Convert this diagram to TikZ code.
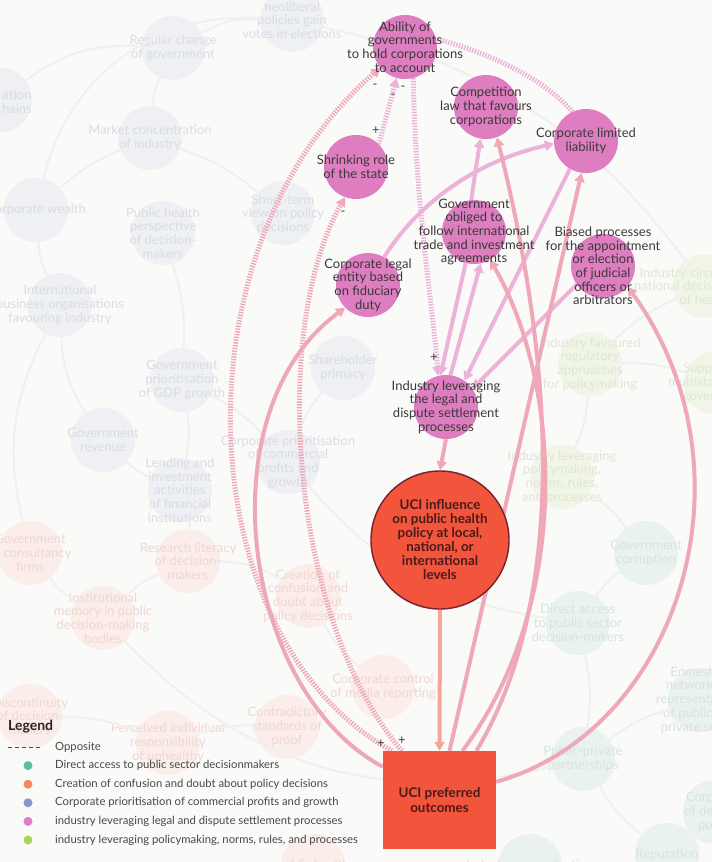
\documentclass[tikz,border=0pt]{standalone}
\usepackage{fontspec}
\setmainfont{Lato}
\usetikzlibrary{arrows.meta,positioning}
\pgfdeclarelayer{bg}
\pgfdeclarelayer{edges}
\pgfsetlayers{bg,edges,main}

\definecolor{paper}{HTML}{FAFAF9}
\definecolor{pinknode}{HTML}{DE7DC0}
\definecolor{pinkline}{HTML}{ECB2D8}
\definecolor{mixline}{HTML}{EFA8B8}
\definecolor{salmonline}{HTML}{F2A69C}
\definecolor{ucired}{HTML}{F2553B}
\definecolor{ucidark}{HTML}{7B1D31}
\definecolor{ucitext}{HTML}{4A1A1A}
\definecolor{nodetxt}{HTML}{3A3A3A}
\definecolor{fgray}{HTML}{EEF0F4}
\definecolor{fgraytxt}{HTML}{D9DCE2}
\definecolor{fsalmon}{HTML}{FBEDE9}
\definecolor{fsalmontxt}{HTML}{F0D7D1}
\definecolor{fgreen}{HTML}{F1F5E8}
\definecolor{fgreentxt}{HTML}{DFE7D0}
\definecolor{fteal}{HTML}{EAF2EF}
\definecolor{fteatxt}{HTML}{D6E4DE}
\definecolor{fline}{HTML}{F0F0F0}
\definecolor{legteal}{HTML}{5FBEA0}
\definecolor{legorange}{HTML}{F48A5E}
\definecolor{legblue}{HTML}{8898CC}
\definecolor{legpink}{HTML}{E07CC4}
\definecolor{leggreen}{HTML}{A5D65A}

\tikzset{
  factor/.style={circle,fill=pinknode,minimum size=64pt,inner sep=0pt},
  ftext/.style={font=\fontsize{13}{13.7}\selectfont,text=nodetxt,align=center,inner sep=0pt},
  uciinfl/.style={circle,fill=ucired,draw=ucidark,line width=1.4pt,minimum size=138pt,inner sep=0pt,
    font=\bfseries\fontsize{13.4}{14}\selectfont,text=ucitext,align=center},
  ucibox/.style={rectangle,fill=ucired,minimum width=113pt,minimum height=98pt,inner sep=0pt,
    font=\bfseries\fontsize{13.4}{15}\selectfont,text=ucitext,align=center},
  fadenode/.style={circle,fill=#1,minimum size=64pt,inner sep=0pt},
  fadetext/.style={font=\fontsize{13}{13.7}\selectfont,text=#1,align=center,inner sep=0pt},
  fadelink/.style={draw=fline,line width=2pt},
  plink/.style={draw=pinkline,line width=4pt,->},
  popp/.style={draw=pinkline,line width=5pt,dash pattern=on 1.4pt off 1.4pt,->},
  olink/.style={draw=mixline,line width=4pt,->},
  oopp/.style={draw=mixline,line width=5pt,dash pattern=on 1.4pt off 1.4pt,->},
  sign/.style={font=\fontsize{13}{13}\selectfont,text=black!75,inner sep=0pt},
  legtitle/.style={font=\bfseries\fontsize{14}{16}\selectfont,text=black!85,anchor=west,inner sep=0pt},
  legtext/.style={font=\fontsize{11.3}{13}\selectfont,text=black!72,anchor=west,inner sep=0pt},
  legdot/.style={circle,minimum size=9pt,inner sep=0pt},
}

\begin{document}
\begin{tikzpicture}[x=1pt,y=-1pt,>={Triangle[length=9pt,width=10pt]}]
\useasboundingbox (0,0) rectangle (712,862);

% faded background network
\begin{pgfonlayer}{bg}
\fill[paper] (0,0) rectangle (712,862);
\foreach \x/\y/\lab [count=\i] in {292/20/{neoliberal\\policies gain\\votes in elections},
    173/48/{Regular change\\of government}, 150/138/{Market concentration\\of industry},
    36/210/{Corporate wealth}, 163/233/{Public health\\perspective\\of decision-\\makers},
    283/213/{Short-term\\view on policy\\decisions}, 60/305/{International\\business organisations\\favouring industry},
    182/380/{Government\\prioritisation\\of GDP growth}, 103/440/{Government\\revenue},
    180/490/{Lending and\\investment\\activities\\of financial\\institutions},
    343/368/{Shareholder\\primacy}, 288/462/{Corporate prioritisation\\of commercial\\profits and\\growth}}
  \node[fadenode=fgray,label={[fadetext=fgraytxt]center:\lab}] (g\i) at (\x,\y) {};
\node[fadenode=fgray] (g13) at (0,100) {};
\node[fadetext=fgraytxt,anchor=east] (g13t) at (32,102) {ation\\hains};
\foreach \x/\y/\lab [count=\i] in {30/553/{Government\\of consultancy\\firms},
    188/561/{Research literacy\\of decision-\\makers}, 103/618/{Institutional\\memory in public\\decision-making\\bodies},
    308/596/{Creation of\\confusion and\\doubt about\\policy decisions}, 383/687/{Corporate control\\of media reporting},
    30/716/{Discontinuity\\of decision-\\makers}, 168/743/{Perceived individual\\responsibility\\of unhealthy},
    287/727/{Contradictory\\standards of\\proof}, 313/866/{public health}}
  \node[fadenode=fsalmon,label={[fadetext=fsalmontxt]center:\lab}] (s\i) at (\x,\y) {};
\foreach \x/\y/\lab [count=\i] in {590/364/{Industry favoured\\regulatory\\approaches\\for policymaking},
    562/477/{Industry leveraging\\policymaking,\\norms, rules,\\and processes},
    705/286/{Industry circumventing\\national decision-making\\of health},
    716/383/{Support for\\multistakeholder\\governance}}
  \node[fadenode=fgreen,label={[fadetext=fgreentxt]center:\lab}] (v\i) at (\x,\y) {};
\foreach \x/\y/\lab [count=\i] in {646/553/{Government\\corruption},
    578/623/{Direct access\\to public sector\\decision-makers},
    700/700/{Enmeshed\\networks of\\representatives\\of public and\\private sector},
    583/759/{Public-private\\partnerships}, 715/812/{Corporate\\of decision\\policy},
    667/855/{Reputation}, 530/866/{Industry normalisation}}
  \node[fadenode=fteal,label={[fadetext=fteatxt]center:\lab}] (t\i) at (\x,\y) {};
\draw[fadelink] (g2) to[bend left=15] (g1);
\draw[fadelink] (g2) to[bend right=10] (g3);
\draw[fadelink] (g3) to[bend left=10] (g6);
\draw[fadelink] (g4) to[bend left=10] (g3);
\draw[fadelink] (g4) to[bend right=10] (g7);
\draw[fadelink] (g5) to[bend left=10] (g8);
\draw[fadelink] (g7) to[bend right=15] (g9);
\draw[fadelink] (g8) to[bend left=10] (g10);
\draw[fadelink] (g9) to[bend right=10] (g10);
\draw[fadelink] (g10) to[bend left=10] (s2);
\draw[fadelink] (g8) to[bend left=10] (g12);
\draw[fadelink] (g11) to[bend right=10] (g12);
\draw[fadelink] (s1) to[bend right=10] (s3);
\draw[fadelink] (s3) to[bend left=10] (s2);
\draw[fadelink] (s2) to[bend left=15] (s4);
\draw[fadelink] (s4) to[bend right=10] (s5);
\draw[fadelink] (s6) to[bend left=10] (s7);
\draw[fadelink] (s7) to[bend left=10] (s8);
\draw[fadelink] (v1) to[bend left=10] (v2);
\draw[fadelink] (v3) to[bend right=10] (v1);
\draw[fadelink] (v4) to[bend right=10] (v1);
\draw[fadelink] (v2) to[bend left=10] (t1);
\draw[fadelink] (t1) to[bend right=10] (t2);
\draw[fadelink] (t2) to[bend left=10] (t4);
\draw[fadelink] (t3) to[bend right=10] (t4);
\draw[fadelink] (t4) to[bend right=10] (t6);
\draw[fadelink] (t5) to[bend left=10] (t6);
\draw[fadelink] (g1) to[bend left=20] (v3);
\draw[fadelink] (g7) to[bend right=20] (s1);
\draw[fadelink] (g4) to[bend left=40] (g1);
\draw[fadelink] (s3) to[bend right=30] (t4);
\draw[fadelink] (g12) to[bend right=20] (t2);
\draw[fadelink] (g13) to[bend left=20] (g2);
\end{pgfonlayer}

% legal and dispute settlement factors
\node[factor,label={[ftext]center:{Ability of\\governments\\to hold corporations\\to account}}] (A) at (405,47) {};
\node[factor,label={[ftext]center:{Competition\\law that favours\\corporations}}] (CL) at (486,107) {};
\node[factor,label={[ftext]center:{Corporate limited\\liability}}] (LL) at (586,141) {};
\node[factor,label={[ftext]center:{Shrinking role\\of the state}}] (SR) at (356,167) {};
\node[factor,label={[ftext]center:{Government\\obliged to\\follow international\\trade and investment\\agreements}}] (GO) at (474,232) {};
\node[factor,label={[ftext]center:{Biased processes\\for the appointment\\or election\\of judicial\\officers or\\arbitrators}}] (BP) at (603,266) {};
\node[factor,label={[ftext]center:{Corporate legal\\entity based\\on fiduciary\\duty}}] (LE) at (368,285) {};
\node[factor,label={[ftext]center:{Industry leveraging\\the legal and\\dispute settlement\\processes}}] (IL) at (446,407) {};
\node[uciinfl] (UI) at (440,540) {UCI influence\\on public health\\policy at local,\\national, or\\international\\levels};
\node[ucibox] (UO) at (439.5,800) {UCI preferred\\outcomes};

\begin{pgfonlayer}{edges}
% links among the factors
\draw[plink] (GO.95) -- (CL.260);
\draw[plink] (GO.255) -- (IL.100);
\draw[plink] (IL.82) -- (GO.282);
\draw[plink] (LL.240) -- (IL.55);
\draw[plink] (BP.215) -- (IL.35);
\draw[plink] (LE.60) .. controls (420,200) and (480,160) .. (LL.185);
\draw[popp] (SR.45) -- (A.255);
\draw[popp] (A.285) .. controls (415,200) and (432,300) .. (IL.104);
\draw[popp,-] (LL.115) .. controls (545,80) and (495,55) .. (A.15);
% links into and out of the outcomes
\draw[draw=mixline,line width=4pt,->] (IL.south) -- (UI.north);
\draw[draw=salmonline,line width=4pt,->] (UI.south) -- (UO.north);
\draw[oopp] ([xshift=9pt]UO.north west) .. controls (190,640) and (170,250) .. (A.220);
\draw[oopp] ([xshift=19pt]UO.north west) .. controls (290,620) and (270,330) .. (SR.250);
\draw[olink] ([yshift=-16pt]UO.north west) .. controls (240,690) and (205,410) .. (LE.225);
\draw[olink] ([xshift=10pt]UO.north) -- (LL.262);
\draw[olink] ([xshift=23pt]UO.north) .. controls (575,600) and (560,380) .. (GO.300);
\draw[olink] ([xshift=37pt]UO.north) .. controls (590,560) and (530,270) .. (CL.290);
\draw[olink] ([yshift=-31pt]UO.north east) .. controls (680,730) and (760,470) .. (BP.320);
\end{pgfonlayer}

% polarity signs
\node[sign] (m1) at (375,86) {-};
\node[sign] (m2) at (393,96) {-};
\node[sign] (m3) at (403,88) {-};
\node[sign] (p1) at (376,131) {+};
\node[sign] (m4) at (343,213) {-};
\node[sign] (p2) at (434,358) {+};
\node[sign] (p3) at (381,744) {+};
\node[sign] (p4) at (402,741) {+};

% legend
\node[legtitle] (legend) at (8,727) {Legend};
\coordinate (dashL) at (8,747);
\coordinate (dashR) at (42,747);
\draw[black!70,line width=1pt,dash pattern=on 3.5pt off 3.5pt] (dashL) -- (dashR);
\node[legtext] (leg0) at (55,747) {Opposite};
\foreach \c/\lab [count=\i] in {legteal/{Direct access to public sector decisionmakers},
    legorange/{Creation of confusion and doubt about policy decisions},
    legblue/{Corporate prioritisation of commercial profits and growth},
    legpink/{industry leveraging legal and dispute settlement processes},
    leggreen/{industry leveraging policymaking, norms, rules, and processes}} {
  \node[legdot,fill=\c] (dot\i) at (28,{747+18.6*\i}) {};
  \node[legtext] (leg\i) at (55,{747+18.6*\i}) {\lab};
}
\end{tikzpicture}
\end{document}
